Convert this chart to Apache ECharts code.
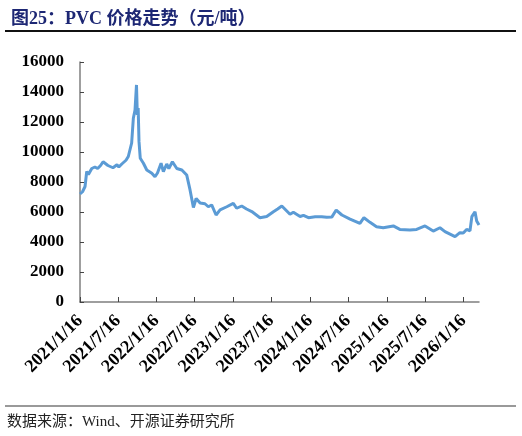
<!DOCTYPE html>
<html>
<head>
<meta charset="utf-8">
<script src="https://cdn.jsdelivr.net/npm/echarts@6/dist/echarts.min.js"></script>
<style>
  html, body { margin: 0; padding: 0; background: #fff; }
  #chart { width: 522px; height: 436px; }
</style>
</head>
<body>
<div id="chart"></div>
<script>
// 日期
var dates = [
  '2021/1/16', '2021/1/28', '2021/2/9', '2021/2/17', '2021/2/25', '2021/3/13', '2021/3/28',
  '2021/4/10', '2021/4/24', '2021/5/6', '2021/5/29', '2021/6/22', '2021/7/11', '2021/7/20',
  '2021/8/3', '2021/8/23', '2021/9/3', '2021/9/19', '2021/9/27', '2021/10/5', '2021/10/12',
  '2021/10/16', '2021/10/20', '2021/10/24', '2021/10/30', '2021/11/6', '2021/11/14', '2021/11/30',
  '2021/12/24', '2022/1/8', '2022/1/20', '2022/2/6', '2022/2/17', '2022/3/5', '2022/3/15',
  '2022/4/1', '2022/4/22', '2022/5/16', '2022/6/8', '2022/6/16', '2022/6/24', '2022/7/10',
  '2022/7/23', '2022/8/11', '2022/8/20', '2022/9/3', '2022/9/19', '2022/10/5', '2022/10/26',
  '2022/11/14', '2022/12/16', '2023/1/16', '2023/2/1', '2023/2/25', '2023/3/20', '2023/4/14',
  '2023/5/23', '2023/6/24', '2023/7/26', '2023/8/15', '2023/9/4', '2023/10/13', '2023/10/29',
  '2023/11/30', '2023/12/16', '2024/1/9', '2024/2/10', '2024/3/12', '2024/4/5', '2024/4/29',
  '2024/5/20', '2024/6/16', '2024/7/25', '2024/9/10', '2024/9/29', '2024/10/28', '2024/11/28',
  '2024/12/30', '2025/2/16', '2025/3/19', '2025/5/6', '2025/6/7', '2025/7/17', '2025/8/25',
  '2025/9/26', '2025/10/20', '2025/12/7', '2025/12/30', '2026/1/15', '2026/1/31', '2026/2/16',
  '2026/2/25', '2026/3/12', '2026/3/20', '2026/3/31'
];
// PVC价格（元/吨）
var prices = [
  7200, 7350, 7700, 8700, 8500, 8900, 9000,
  8900, 9100, 9350, 9100, 8950, 9150, 9000,
  9200, 9450, 9700, 10600, 12250, 12800, 14470,
  12470, 12930, 10690, 9580, 9700, 9250, 8800,
  8580, 8350, 8600, 9250, 8690, 9200, 8900,
  9350, 8900, 8800, 8470, 8550, 7470, 6300,
  6900, 6600, 6650, 6550, 6350, 6470, 5800,
  6140, 6350, 6580, 6250, 6400, 6200, 6030,
  5620, 5700, 6020, 6200, 6400, 5850, 5980,
  5700, 5780, 5620, 5680, 5690, 5650, 5660,
  6130, 5800, 5530, 5240, 5620, 5310, 5020,
  4950, 5070, 4840, 4800, 4840, 5070, 4730,
  4950, 4690, 4360, 4620, 4600, 4840, 4740,
  5690, 6020, 5400, 5130
];
// 横轴刻度
var tickLabels = [
  '2021/1/16', '2021/7/16', '2022/1/16', '2022/7/16', '2023/1/16', '2023/7/16',
  '2024/1/16', '2024/7/16', '2025/1/16', '2025/7/16', '2026/1/16'
];
var xMin = '2021/1/16';
var xMax = '2026/3/31';

function toTime(s) {
  var p = s.split('/');
  return new Date(+p[0], +p[1] - 1, +p[2]).getTime();
}
function fmt(v) {
  var d = new Date(v);
  return d.getFullYear() + '/' + (d.getMonth() + 1) + '/' + d.getDate();
}

var seriesData = dates.map(function (d, i) { return [toTime(d), prices[i]]; });
var tickValues = tickLabels.map(toTime);

var chart = echarts.init(document.getElementById('chart'));
var serif = "'Liberation Serif', 'Times New Roman', serif";
var axisColor = '#7f7f7f';

chart.setOption({
  backgroundColor: '#fff',
  animation: false,
  title: {
    text: '图25：PVC 价格走势（元/吨）',
    left: 6,
    top: 5,
    textStyle: {
      color: '#1d2774',
      fontSize: 18,
      fontWeight: 'bold',
      fontFamily: "'Liberation Serif', 'Noto Sans CJK SC', serif"
    }
  },
  graphic: [
    { type: 'line', shape: { x1: 5, y1: 31, x2: 516, y2: 31 }, style: { stroke: '#111', lineWidth: 2 } },
    { type: 'line', shape: { x1: 5, y1: 406, x2: 516, y2: 406 }, style: { stroke: '#777', lineWidth: 1.5 } },
    {
      type: 'text', left: 7, top: 415,
      style: {
        text: '数据来源：Wind、开源证券研究所',
        fill: '#222',
        font: "15px 'Liberation Serif', 'Noto Sans CJK SC', serif"
      }
    }
  ],
  grid: {
    left: 80, right: 43, top: 62, bottom: 134,
    outerBoundsMode: 'none'
  },
  xAxis: {
    type: 'value',
    min: toTime(xMin),
    max: toTime(xMax),
    axisLine: { lineStyle: { color: axisColor, width: 1.5 } },
    axisTick: { show: true, inside: true, length: 5, customValues: tickValues, lineStyle: { color: '#444' } },
    splitLine: { show: false },
    axisLabel: {
      customValues: tickValues,
      rotate: 45,
      margin: 16,
      color: '#000',
      fontSize: 18,
      fontWeight: 'bold',
      fontFamily: serif,
      formatter: function (v) { return fmt(v); }
    }
  },
  yAxis: {
    type: 'value',
    min: 0,
    max: 16000,
    interval: 2000,
    axisLine: { show: true, lineStyle: { color: axisColor, width: 1.5 } },
    axisTick: { show: true, inside: true, length: 4, lineStyle: { color: '#444' } },
    splitLine: { show: false },
    axisLabel: {
      margin: 16,
      color: '#000',
      fontSize: 17,
      fontWeight: 'bold',
      fontFamily: serif,
      formatter: function (v) { return String(v); }
    }
  },
  series: [{
    type: 'line',
    data: seriesData,
    showSymbol: false,
    smooth: false,
    lineStyle: { color: '#5b9bd5', width: 3 },
    itemStyle: { color: '#5b9bd5' }
  }]
});
</script>
</body>
</html>
